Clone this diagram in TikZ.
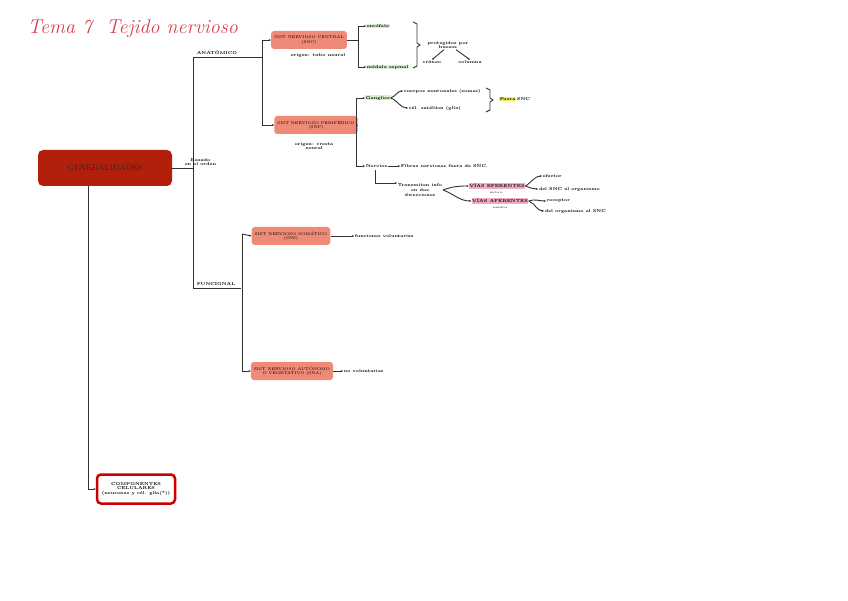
\documentclass[tikz,border=0pt]{standalone}
\usepackage{tikz}
\usepackage{amssymb}
\usepackage{amsmath}
\usetikzlibrary{arrows.meta}
\definecolor{genred}{RGB}{178,32,12}
\definecolor{boxsalmon}{RGB}{238,138,118}
\definecolor{titlered}{RGB}{218,62,72}
\definecolor{hlgreen}{RGB}{214,240,204}
\definecolor{hlyellow}{RGB}{250,238,80}
\definecolor{hlpink}{RGB}{242,172,192}
\definecolor{linegray}{RGB}{50,50,50}
\begin{document}
\begin{tikzpicture}[x=1pt,y=-1pt,
  line/.style={draw=linegray,line width=0.9pt},
  arr/.style={line,-{Stealth[length=2.2pt,width=2pt]}},
  tiny/.style={font=\fontsize{4.2}{4.8}\selectfont\bfseries,inner sep=0.6pt,align=center},
  sistbox/.style={tiny,font=\fontsize{4}{4.6}\selectfont,fill=boxsalmon,rounded corners=3pt,minimum height=18pt,inner xsep=3pt},
  hl/.style={tiny,fill=#1}]
\useasboundingbox (0,0) rectangle (848,601);
% title:
\node[text=titlered,font=\fontsize{20}{21}\selectfont\itshape,anchor=west] (title) at (24,29) {Tema 7\ \ Tejido nervioso};
% main nodes:
\node[fill=genred,rounded corners=5pt,minimum width=134pt,minimum height=36pt,font=\fontsize{8}{9}\selectfont,text=black!85] (gen) at (105,168) {GENERALIDADES};
\node[tiny,draw=red!80!black,line width=2.5pt,fill=white,rounded corners=4pt,minimum width=78pt,minimum height=29pt] (comp) at (136,489) {COMPONENTES\\CELULARES\\(neuronas y cél. glía(*))};
% anatomico / funcional split:
\coordinate (split) at (193,168);
\coordinate (anat) at (193,57);
\coordinate (func) at (193,288);
\coordinate (anatj) at (262,57);
\coordinate (funcj) at (241,288);
\draw[line] (gen.east) -- (split);
\draw[line] (anat) -- (func);
\draw[line] (anat) -- (anatj);
\draw[line] (func) -- (funcj);
\node[tiny,anchor=south west] (anatlbl) at (196,55) {ANATÓMICO};
\node[tiny,anchor=south west] (funclbl) at (196,286) {FUNCIONAL};
\node[tiny,anchor=west] (basado) at (184,162) {Basado\\en el orden};
% anatomico:
\node[sistbox,minimum width=74pt] (snc) at (309,40) {SIST NERVIOSO CENTRAL\\(SNC)};
\node[tiny] (sncorig) at (318,55) {origen: tubo neural};
\node[sistbox,minimum width=79pt] (snp) at (316,125) {SIST NERVIOSO PERIFÉRICO\\(SNP)};
\node[tiny] (snporig) at (314,146) {origen: cresta\\neural};
\coordinate (snct) at (262,40);
\coordinate (snpt) at (262,125);
\draw[line] (snct) -- (snpt);
\draw[arr] (snct) -- (snc.west);
\draw[arr] (snpt) -- (snp.west);
% snc:
\coordinate (sncj) at (358,40);
\coordinate (encj) at (358,26);
\coordinate (medj) at (358,67);
\node[hl=hlgreen,anchor=west] (enc) at (366,26) {encéfalo};
\node[hl=hlgreen,anchor=west] (med) at (366,67) {médula espinal};
\draw[line] (snc.east) -- (sncj);
\draw[line] (encj) -- (medj);
\draw[arr] (encj) -- (enc.west);
\draw[arr] (medj) -- (med.west);
\draw[line] (413,22) -- (417,24) -- (417,43) -- (420,45) -- (417,47) -- (417,66) -- (413,68);
\node[tiny] (prot) at (448,45) {protegidos por\\huesos};
\node[tiny] (craneo) at (432,62) {cráneo};
\node[tiny] (columna) at (470,62) {columna};
\draw[arr] (prot.south) ++(-4,0) coordinate (protl) -- (craneo.north);
\draw[arr] (prot.south) ++(8,0) coordinate (protr) -- (columna.north);
% snp:
\coordinate (snpj) at (356,125);
\coordinate (ganj) at (356,98);
\coordinate (nerj) at (356,166);
\node[hl=hlgreen,anchor=west] (gan) at (365,98) {Ganglios};
\node[tiny,anchor=west] (ner) at (365,166) {Nervios};
\draw[line] (snp.east) -- (snpj);
\draw[line] (ganj) -- (nerj);
\draw[arr] (ganj) -- (gan.west);
\draw[arr] (nerj) -- (ner.west);
\node[tiny,anchor=west] (cuerpos) at (403,91) {cuerpos neuronales (somas)};
\node[tiny,anchor=west] (glia) at (408,108) {cél. satélites (glía)};
\draw[arr] (gan.east) to[out=20,in=180] (cuerpos.west);
\draw[arr] (gan.east) to[out=-20,in=180] (glia.west);
\draw[line] (486,88) -- (490,90) -- (490,98) -- (493,100) -- (490,102) -- (490,110) -- (486,112);
\node[hl=hlyellow,anchor=west] (fuera) at (499,99) {Fuera};
\node[tiny,anchor=west] (fuerasnc) at (fuera.east) {SNC};
\node[tiny,anchor=west] (fibras) at (400,166) {Fibras nerviosas fuera de SNC.};
\draw[arr] (ner.east) -- (fibras.west);
% nervios:
\node[tiny] (trans) at (420,190) {Transmiten info\\en dos\\direcciones};
\coordinate (nerd) at (375,170);
\draw[arr] (nerd) |- (trans.west |- 183,183);
\node[hl=hlpink] (efe) at (497,186) {VÍAS EFERENTES};
\node[tiny,font=\fontsize{2.8}{3}\selectfont] (motora) at (496,193) {motora};
\node[hl=hlpink] (afe) at (500,201) {VÍAS AFERENTES};
\node[tiny,font=\fontsize{2.8}{3}\selectfont] (sens) at (500,208) {sensitiva};
\draw[arr] (trans.east) to[out=20,in=180] (efe.west);
\draw[arr] (trans.east) to[out=-20,in=180] (afe.west);
\node[tiny,anchor=west] (efector) at (542,176) {efector};
\node[tiny,anchor=west] (delsnc) at (538,189) {del SNC al organismo};
\node[tiny,anchor=west] (receptor) at (546,201) {receptor};
\node[tiny,anchor=west] (delorg) at (544,211) {del organismo al SNC};
\draw[arr] (efe.east) to[out=30,in=180] (efector.west);
\draw[arr] (efe.east) to[out=-20,in=180] (delsnc.west);
\draw[arr] (afe.east) to[out=20,in=180] (receptor.west);
\draw[arr] (afe.east) to[out=-20,in=180] (delorg.west);
% funcional:
\node[sistbox,minimum width=75pt] (sns) at (291,236) {SIST NERVIOSO SOMÁTICO\\(SNS)};
\node[sistbox,minimum width=75pt] (sna) at (292,371) {SIST NERVIOSO AUTÓNOMO\\O VEGETATIVO (SNA)};
\coordinate (snst) at (242,234);
\coordinate (snat) at (242,371);
\draw[line] (snst) -- (snat);
\draw[arr] (snst) -- (sns.west);
\draw[arr] (snat) -- (sna.west);
\node[tiny,anchor=west] (volunt) at (354,236) {funciones voluntarias};
\node[tiny,anchor=west] (novolunt) at (343,371) {no voluntarias};
\draw[arr] (sns.east) -- (volunt.west);
\draw[arr] (sna.east) -- (novolunt.west);
% componentes:
\coordinate (gend) at (88,186);
\draw[arr] (gend) |- (comp.west);
\end{tikzpicture}
\end{document}
